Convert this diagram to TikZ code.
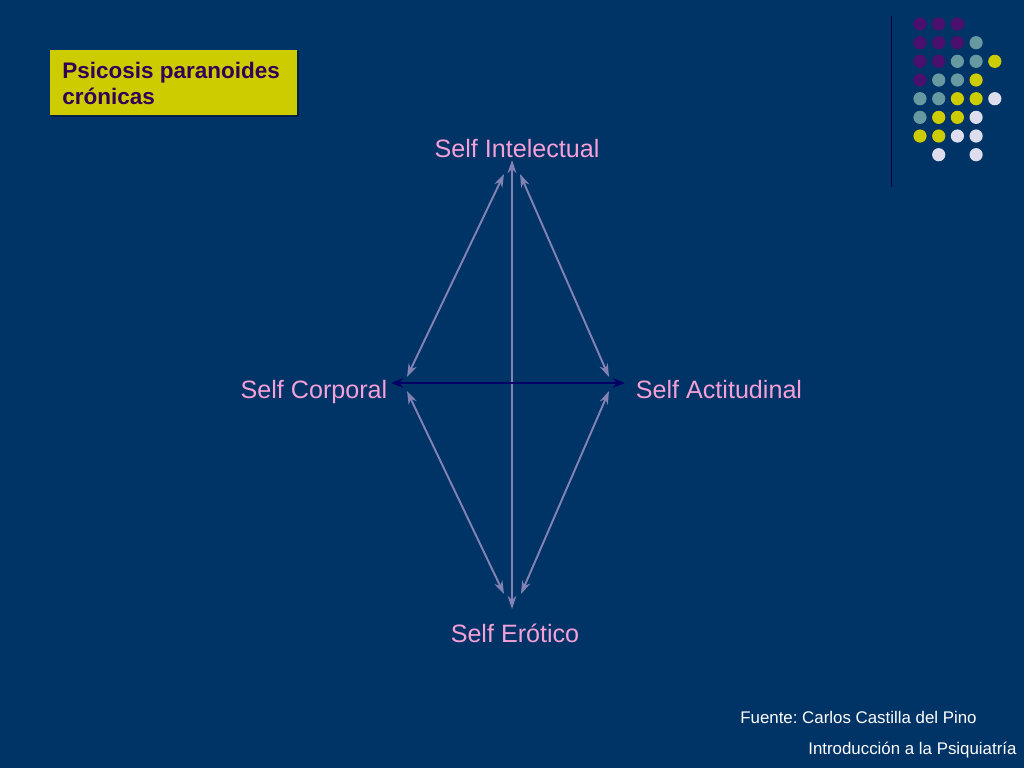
\documentclass[tikz,border=0pt]{standalone}
\usepackage{fontspec}
\setmainfont{Liberation Sans}
\usetikzlibrary{arrows.meta}
\frenchspacing
\definecolor{bg}{RGB}{0,51,102}
\definecolor{dotP}{RGB}{75,15,110}
\definecolor{dotT}{RGB}{102,153,160}
\definecolor{dotY}{RGB}{204,204,0}
\definecolor{dotL}{RGB}{221,221,238}
\definecolor{titlefg}{RGB}{51,0,85}
\definecolor{pinkfg}{RGB}{245,160,215}
\definecolor{arrowc}{RGB}{130,130,180}
\definecolor{navyc}{RGB}{0,0,102}
\tikzset{
  selflabel/.style={text=pinkfg, font=\fontsize{14.3pt}{17pt}\selectfont, anchor=base, inner sep=0pt},
  footlabel/.style={text=white, font=\fontsize{9.6pt}{12pt}\selectfont, anchor=base west, inner sep=0pt},
  linkarrow/.style={draw=arrowc, line width=1.1pt, {Stealth[length=7.5pt,width=5pt]}-{Stealth[length=7.5pt,width=5pt]}},
  navyarrow/.style={draw=navyc, line width=1.6pt, {Stealth[length=7pt,width=5.5pt]}-{Stealth[length=7pt,width=5.5pt]}},
}
\begin{document}
\begin{tikzpicture}[x=0.02cm,y=-0.02cm]
\fill[bg] (0,0) rectangle (1024,768);
\useasboundingbox (0,0) rectangle (1024,768);
% decorative vertical line
\draw[navyc!60!black, line width=1pt] (891.5,16) -- (891.5,187);
% dot grid
\foreach \i/\r in {0/0,1/0,2/0,0/1,1/1,2/1,0/2,1/2,0/3}
  \fill[dotP] ({920+18.7*\i},{24+18.67*\r}) circle (6.6);
\foreach \i/\r in {3/1,2/2,3/2,1/3,2/3,0/4,1/4,0/5}
  \fill[dotT] ({920+18.7*\i},{24+18.67*\r}) circle (6.6);
\foreach \i/\r in {4/2,3/3,2/4,3/4,1/5,2/5,0/6,1/6}
  \fill[dotY] ({920+18.7*\i},{24+18.67*\r}) circle (6.6);
\foreach \i/\r in {4/4,3/5,2/6,3/6,1/7,3/7}
  \fill[dotL] ({920+18.7*\i},{24+18.67*\r}) circle (6.6);
% title box
\fill[black!35!bg] (51,51) rectangle (298.5,116.5);
\node[fill=dotY, minimum width=247*0.02cm, minimum height=65*0.02cm, anchor=north west, inner sep=0pt] (titlebox) at (50,50) {};
\node[anchor=base west, inner sep=0pt, text=titlefg, font=\bfseries\fontsize{12.8pt}{14.6pt}\selectfont] (t1) at (62,78) {Psicosis paranoides};
\node[anchor=base west, inner sep=0pt, text=titlefg, font=\bfseries\fontsize{12.8pt}{14.6pt}\selectfont] (t2) at (62,104) {crónicas};
% labels
\node[selflabel] (intel) at (517,157) {Self Intelectual};
\node[selflabel] (corp) at (314,398) {Self Corporal};
\node[selflabel] (acti) at (719,398) {Self Actitudinal};
\node[selflabel] (erot) at (515,642) {Self Erótico};
% arrow endpoints
\coordinate (vt) at (512,160);
\coordinate (vb) at (512,609);
\coordinate (itl) at (504,174);
\coordinate (itr) at (520,174);
\coordinate (cu) at (407,377);
\coordinate (cd) at (407,391);
\coordinate (au) at (609,377);
\coordinate (ad) at (609,391);
\coordinate (ebl) at (504,594);
\coordinate (ebr) at (521,594);
\coordinate (hl) at (391,383);
\coordinate (hr) at (625,383);
\draw[linkarrow] (vt) -- (vb);
\draw[linkarrow] (itl) -- (cu);
\draw[linkarrow] (itr) -- (au);
\draw[linkarrow] (cd) -- (ebl);
\draw[linkarrow] (ad) -- (ebr);
\draw[navyarrow] (hl) -- (hr);
% footer
\node[footlabel] (f1) at (740,723) {Fuente: Carlos Castilla del Pino};
\node[footlabel] (f2) at (808,754) {Introducción a la Psiquiatría};
\end{tikzpicture}
\end{document}
